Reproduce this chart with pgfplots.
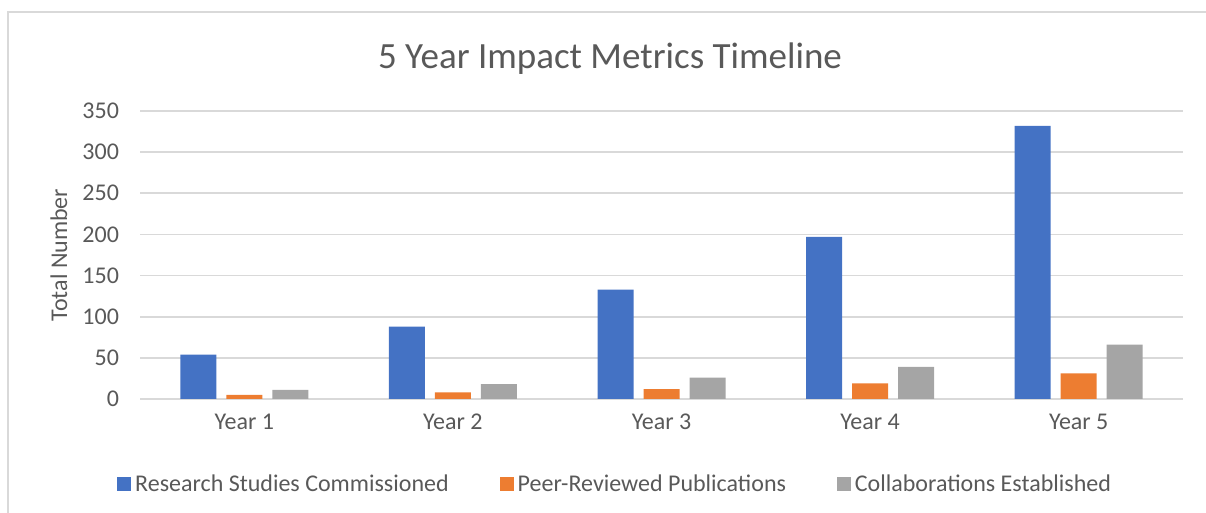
\documentclass[border=0pt]{standalone}
\usepackage{fontspec}
\setmainfont{Carlito}
\usepackage{pgfplots}
\pgfplotsset{compat=1.18}
\definecolor{cblue}{HTML}{4472C4}
\definecolor{corange}{HTML}{ED7D31}
\definecolor{cgray}{HTML}{A5A5A5}
\definecolor{ctext}{HTML}{595959}
\definecolor{cgrid}{HTML}{D9D9D9}
\begin{document}
\begin{tikzpicture}[x=1pt,y=1pt]
\useasboundingbox (0,0) rectangle (603,256.5);
\draw[cgrid,line width=1pt] (4,0) -- (4,250.5) -- (603,250.5);
\node[text=ctext,font=\fontsize{18.5}{22}\selectfont] at (305,227) {5 Year Impact Metrics Timeline};
\node[text=ctext,font=\fontsize{12}{14}\selectfont,rotate=90] at (29.5,129) {Total Number};
\begin{axis}[
  at={(70pt,57pt)}, anchor=south west,
  scale only axis, width=521.5pt, height=144pt,
  xmin=-0.5, xmax=4.5, ymin=0, ymax=350,
  xtick={0,1,2,3,4},
  xticklabels={Year 1,Year 2,Year 3,Year 4,Year 5},
  ytick={0,50,...,350},
  major tick length=0pt,
  axis line style={draw=none},
  ymajorgrids, grid style={cgrid,line width=0.9pt},
  ticklabel style={text=ctext,font=\fontsize{12}{14}\selectfont},
  /pgf/number format/assume math mode=true,
  yticklabel style={xshift=-7pt},
  xticklabel style={yshift=-4pt},
  ybar, bar width=18pt,
  legend style={at={(axis description cs:0.4565,-0.296)}, anchor=center, draw=none, fill=none,
     font=\fontsize{12}{14}\selectfont, text=ctext, legend columns=3,
     /tikz/every even column/.append style={column sep=23.5pt}},
  legend image code/.code={\fill[#1] (0.5pt,-3.5pt) rectangle (7.5pt,3.5pt);},
  legend cell align=left,
]
\addplot[fill=cblue,draw=none,bar shift=-23pt] coordinates {(0,54) (1,88) (2,133) (3,197) (4,332)};
\addplot[fill=corange,draw=none,bar shift=0pt] coordinates {(0,5) (1,8) (2,12) (3,19) (4,31)};
\addplot[fill=cgray,draw=none,bar shift=23pt] coordinates {(0,11) (1,18) (2,26) (3,39) (4,66)};
\legend{Research Studies Commissioned,Peer-Reviewed Publications,Collaborations Established}
\end{axis}
\end{tikzpicture}
\end{document}
